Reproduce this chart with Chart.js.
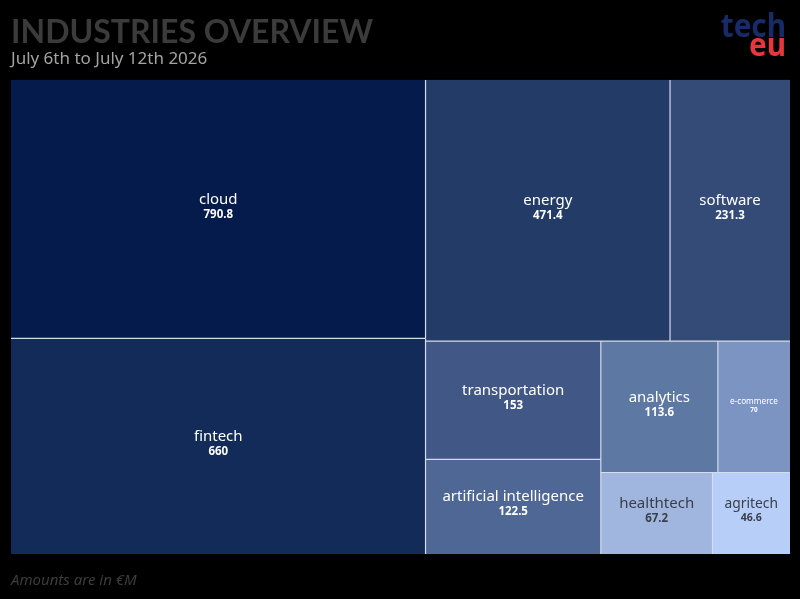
<!DOCTYPE html>
<html>
<head>
<meta charset="utf-8">
<script src="https://cdn.jsdelivr.net/npm/chart.js@4.4.1/dist/chart.umd.min.js"></script>
<style>
    html, body { margin: 0; padding: 0; background: #000; }
    #wrap { width: 800px; height: 599px; }
</style>
</head>
<body>
<div id="wrap"><canvas id="industriesChart"></canvas></div>
<script>
// Industries and amounts (EUR M), biggest first
const industries = ['cloud', 'fintech', 'energy', 'software', 'transportation',
    'artificial intelligence', 'analytics', 'e-commerce', 'healthtech', 'agritech'];
const amounts = [790.8, 660, 471.4, 231.3, 153, 122.5, 113.6, 70, 67.2, 46.6];

const cellColors = ['#041b4b', '#132b58', '#233b67', '#334b76', '#415886',
    '#4f6794', '#5e78a4', '#7c94c1', '#a0b6de', '#b7cef8'];
const darkText = ['healthtech', 'agritech'];

// Squarified layout (golden ratio target), same idea as d3.treemapSquarify
function squarify(values, x0, y0, x1, y1, ratio) {
    const cells = [];
    const n = values.length;
    let value = values.reduce((a, b) => a + b, 0);
    let i0 = 0, i1 = 0;

    while (i0 < n) {
        const dx = x1 - x0, dy = y1 - y0;
        let sumValue = values[i1++];
        let minV = sumValue, maxV = sumValue;
        const alpha = Math.max(dy / dx, dx / dy) / (value * ratio);
        let beta = sumValue * sumValue * alpha;
        let minRatio = Math.max(maxV / beta, beta / minV);

        for (; i1 < n; ++i1) {
            const v = values[i1];
            sumValue += v;
            if (v < minV) minV = v;
            if (v > maxV) maxV = v;
            beta = sumValue * sumValue * alpha;
            const newRatio = Math.max(maxV / beta, beta / minV);
            if (newRatio > minRatio) { sumValue -= v; break; }
            minRatio = newRatio;
        }

        if (dx < dy) {
            const ry = y0 + dy * sumValue / value;
            let x = x0;
            for (let i = i0; i < i1; i++) {
                const w = dx * values[i] / sumValue;
                cells.push({ i: i, x0: x, y0: y0, x1: x + w, y1: ry });
                x += w;
            }
            y0 = ry;
        } else {
            const rx = x0 + dx * sumValue / value;
            let y = y0;
            for (let i = i0; i < i1; i++) {
                const h = dy * values[i] / sumValue;
                cells.push({ i: i, x0: x0, y0: y, x1: rx, y1: y + h });
                y += h;
            }
            x0 = rx;
        }
        value -= sumValue;
        i0 = i1;
    }
    return cells;
}

const treemapPlugin = {
    id: 'treemap',
    beforeDatasetsDraw(chart) {
        const { ctx, chartArea, scales } = chart;
        const aspect = chartArea.width / chartArea.height;
        const cells = squarify(amounts, 0, 0, aspect, 1, (1 + Math.sqrt(5)) / 2);

        const rects = cells.map(c => {
            const left = scales.x.getPixelForValue(c.x0 / aspect);
            const right = scales.x.getPixelForValue(c.x1 / aspect);
            const top = scales.y.getPixelForValue(c.y0);
            const bottom = scales.y.getPixelForValue(c.y1);
            return { i: c.i, left, right, top, bottom };
        });

        ctx.save();
        rects.forEach(r => {
            ctx.fillStyle = cellColors[r.i];
            ctx.fillRect(r.left, r.top, r.right - r.left, r.bottom - r.top);
        });

        // inner borders only
        ctx.strokeStyle = '#d6dced';
        ctx.lineWidth = 1.2;
        const near = (a, b) => Math.abs(a - b) < 0.5;
        rects.forEach(r => {
            ctx.beginPath();
            if (!near(r.right, chartArea.right)) {
                ctx.moveTo(r.right, r.top); ctx.lineTo(r.right, r.bottom);
            }
            if (!near(r.bottom, chartArea.bottom)) {
                ctx.moveTo(r.left, r.bottom); ctx.lineTo(r.right, r.bottom);
            }
            ctx.stroke();
        });

        // labels
        rects.forEach(r => {
            const name = industries[r.i];
            const w = r.right - r.left;
            const cx = r.left + w / 2, cy = (r.top + r.bottom) / 2;
            ctx.font = '15px "Noto Sans"';
            const tw = ctx.measureText(name).width;
            const maxW = w - 24;
            const scale = tw > maxW ? maxW / tw : 1;

            ctx.fillStyle = darkText.includes(name) ? '#3a3e48' : '#ffffff';
            ctx.textAlign = 'center';
            ctx.textBaseline = 'middle';
            ctx.font = (15 * scale) + 'px "Noto Sans"';
            ctx.fillText(name, cx, cy - 9.5 * scale);
            ctx.font = 'bold ' + (11.5 * scale) + 'px "Noto Sans"';
            ctx.fillText(String(amounts[r.i]), cx, cy + 5.5 * scale);
        });
        ctx.restore();

        // footer note
        ctx.save();
        ctx.fillStyle = '#3c3c3c';
        ctx.font = 'italic 15px "Noto Sans"';
        ctx.textAlign = 'left';
        ctx.textBaseline = 'alphabetic';
        ctx.fillText('Amounts are in €M', chartArea.left, chartArea.bottom + 31);

        // tech.eu logo (slightly condensed)
        ctx.translate(786, 0);
        ctx.scale(0.9, 1);
        ctx.textAlign = 'right';
        ctx.font = 'bold 33px "Noto Sans"';
        ctx.fillStyle = '#172c66';
        ctx.fillText('tech', 0, 37);
        ctx.fillStyle = '#e8353e';
        ctx.fillText('eu', 0, 56);
        ctx.restore();
    }
};

const chart = new Chart(document.getElementById('industriesChart'), {
    type: 'scatter',
    data: { datasets: [{ data: [] }] },
    options: {
        responsive: true,
        maintainAspectRatio: false,
        animation: false,
        layout: {
            padding: { left: 11, right: 10, top: 0, bottom: 45 }
        },
        plugins: {
            legend: { display: false },
            tooltip: { enabled: false },
            title: {
                display: true,
                text: 'INDUSTRIES OVERVIEW',
                align: 'start',
                color: '#3b3b3b',
                font: { family: 'Lato', size: 32, weight: 'bold', lineHeight: 1.1 },
                padding: { top: 15, bottom: 0 }
            },
            subtitle: {
                display: true,
                text: 'July 6th to July 12th 2026',
                align: 'start',
                color: '#a3a3a3',
                font: { family: 'Noto Sans', size: 17, lineHeight: 1.1 },
                padding: { top: 0, bottom: 11 }
            }
        },
        scales: {
            x: { display: false, min: 0, max: 1 },
            y: { display: false, min: 0, max: 1, reverse: true }
        }
    },
    plugins: [treemapPlugin]
});
</script>
</body>
</html>
